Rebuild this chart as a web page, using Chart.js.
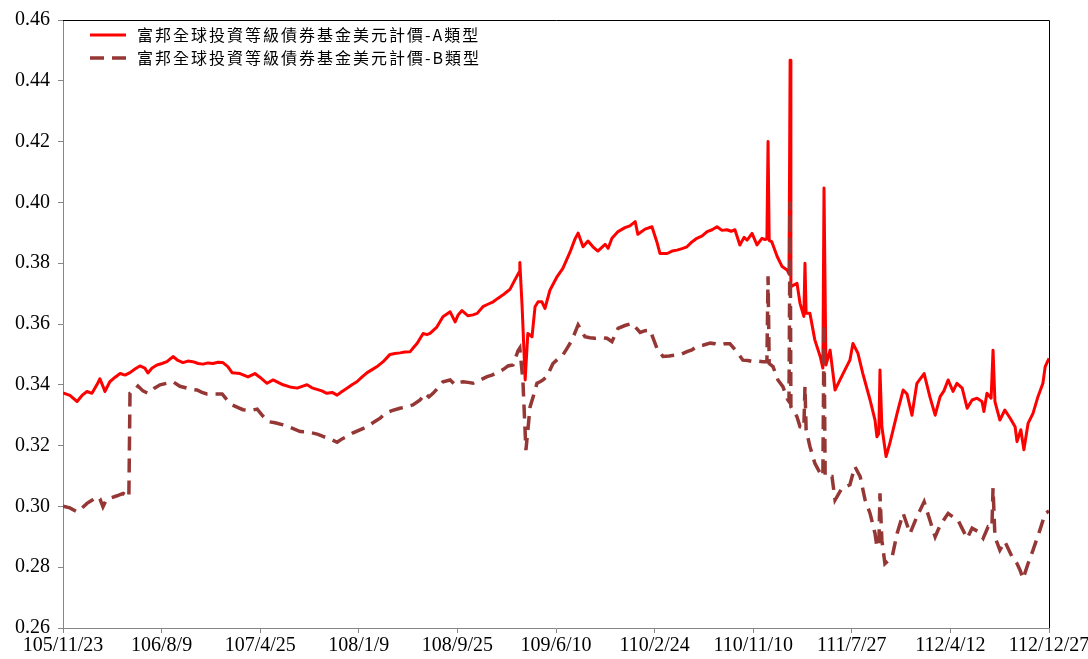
<!DOCTYPE html>
<html>
<head>
<meta charset="utf-8">
<script src="https://cdn.jsdelivr.net/npm/chart.js@4"></script>
<style>
  html, body { margin: 0; padding: 0; background: #fff; }
  #chart { display: block; }
</style>
</head>
<body>
<canvas id="chart" width="1088" height="659"></canvas>
<script>
// x ticks: every 259 days from 105/11/23 (ROC calendar)
const xTickLabels = ['105/11/23', '106/8/9', '107/4/25', '108/1/9', '108/9/25', '109/6/10',
    '110/2/24', '110/11/10', '111/7/27', '112/4/12', '112/12/27'];
const tickStepDays = 259;
const totalDays = 2590;

const seriesNames = ['富邦全球投資等級債券基金美元計價-A類型', '富邦全球投資等級債券基金美元計價-B類型'];

// A type: days since 105/11/23, value
const aDays = [0, 18, 37, 50, 63, 76, 89, 97, 105, 110, 123, 137, 150, 163, 176, 189, 202, 215, 223, 234,
    247, 260, 273, 289, 302, 315, 328, 341, 355, 368, 381, 394, 407, 420, 433, 444, 465, 486, 504, 517,
    536, 552, 578, 596, 615, 628, 641, 654, 667, 680, 693, 707, 720, 733, 746, 759, 772, 785, 799, 812,
    825, 841, 859, 872, 885, 898, 912, 919, 930, 946, 956, 964, 982, 998, 1017, 1030, 1038, 1048, 1064, 1077,
    1088, 1103, 1116, 1130, 1143, 1156, 1166, 1174, 1187, 1198, 1200, 1206, 1214, 1221, 1232, 1240, 1248, 1258, 1266, 1279,
    1298, 1313, 1332, 1345, 1353, 1366, 1379, 1392, 1405, 1424, 1432, 1442, 1458, 1476, 1489, 1503, 1510, 1529, 1547, 1560,
    1568, 1587, 1600, 1613, 1626, 1639, 1652, 1665, 1679, 1692, 1705, 1718, 1731, 1744, 1755, 1765, 1778, 1789, 1797, 1810,
    1823, 1836, 1844, 1849, 1852, 1855, 1862, 1876, 1889, 1902, 1907, 1910, 1912, 1928, 1936, 1946, 1949, 1952, 1962, 1975,
    1989, 1996, 1999, 2004, 2015, 2028, 2041, 2054, 2067, 2075, 2088, 2101, 2120, 2133, 2138, 2143, 2146, 2151, 2162, 2172,
    2191, 2207, 2217, 2230, 2243, 2262, 2277, 2291, 2304, 2314, 2325, 2338, 2348, 2362, 2375, 2388, 2401, 2414, 2419, 2427,
    2438, 2443, 2448, 2461, 2474, 2488, 2501, 2506, 2516, 2524, 2535, 2548, 2561, 2574, 2580, 2590];
const aValues = [0.3373, 0.3365, 0.3345, 0.3365, 0.3378, 0.3372, 0.3400, 0.3420, 0.3395, 0.3378, 0.3410, 0.3425, 0.3437, 0.3432, 0.3440, 0.3452, 0.3462, 0.3455, 0.3439, 0.3455,
    0.3465, 0.3470, 0.3476, 0.3493, 0.3480, 0.3473, 0.3478, 0.3476, 0.3470, 0.3468, 0.3472, 0.3470, 0.3474, 0.3473, 0.3460, 0.3440, 0.3437, 0.3426, 0.3437, 0.3425,
    0.3405, 0.3416, 0.3400, 0.3393, 0.3389, 0.3395, 0.3400, 0.3390, 0.3385, 0.3380, 0.3372, 0.3375, 0.3366, 0.3378, 0.3389, 0.3400, 0.3410, 0.3425, 0.3440, 0.3450,
    0.3460, 0.3476, 0.3500, 0.3503, 0.3505, 0.3508, 0.3509, 0.3520, 0.3536, 0.3569, 0.3565, 0.3569, 0.3590, 0.3624, 0.3640, 0.3607, 0.3630, 0.3644, 0.3627, 0.3630,
    0.3635, 0.3657, 0.3665, 0.3673, 0.3685, 0.3696, 0.3706, 0.3714, 0.3745, 0.3770, 0.3802, 0.3657, 0.3416, 0.3569, 0.3558, 0.3657, 0.3673, 0.3673, 0.3651, 0.3711,
    0.3756, 0.3783, 0.3837, 0.3880, 0.3899, 0.3854, 0.3873, 0.3854, 0.3840, 0.3862, 0.3849, 0.3882, 0.3904, 0.3917, 0.3923, 0.3937, 0.3895, 0.3912, 0.3920, 0.3870,
    0.3832, 0.3832, 0.3840, 0.3843, 0.3848, 0.3854, 0.3870, 0.3882, 0.3890, 0.3904, 0.3910, 0.3920, 0.3908, 0.3910, 0.3905, 0.3910, 0.3860, 0.3885, 0.3876, 0.3898,
    0.3860, 0.3882, 0.3878, 0.3880, 0.4200, 0.3875, 0.3870, 0.3822, 0.3789, 0.3778, 0.3765, 0.4468, 0.3723, 0.3734, 0.3668, 0.3625, 0.3800, 0.3635, 0.3635, 0.3547,
    0.3493, 0.3455, 0.4047, 0.3465, 0.3514, 0.3383, 0.3416, 0.3449, 0.3481, 0.3536, 0.3504, 0.3437, 0.3350, 0.3284, 0.3229, 0.3240, 0.3449, 0.3262, 0.3164, 0.3208,
    0.3306, 0.3383, 0.3370, 0.3300, 0.3405, 0.3437, 0.3361, 0.3300, 0.3361, 0.3380, 0.3416, 0.3378, 0.3405, 0.3389, 0.3323, 0.3350, 0.3356, 0.3345, 0.3312, 0.3372,
    0.3356, 0.3514, 0.3345, 0.3284, 0.3317, 0.3290, 0.3262, 0.3213, 0.3252, 0.3186, 0.3273, 0.3306, 0.3361, 0.3405, 0.3460, 0.3487];

// B type
const bDays = [0, 18, 37, 50, 63, 76, 89, 97, 105, 113, 123, 142, 158, 171, 173, 176, 187, 197, 210, 223,
    239, 255, 273, 289, 307, 326, 339, 352, 365, 378, 397, 418, 431, 444, 460, 473, 491, 510, 523, 538,
    557, 578, 596, 623, 641, 657, 670, 683, 701, 720, 733, 746, 762, 780, 799, 814, 833, 846, 864, 885,
    904, 919, 938, 951, 961, 972, 985, 998, 1017, 1030, 1040, 1051, 1064, 1077, 1095, 1114, 1127, 1140, 1156, 1169,
    1182, 1195, 1200, 1203, 1208, 1216, 1227, 1235, 1245, 1253, 1261, 1271, 1287, 1300, 1313, 1324, 1337, 1353, 1371, 1384,
    1397, 1413, 1429, 1442, 1458, 1476, 1495, 1516, 1529, 1542, 1560, 1576, 1592, 1608, 1623, 1639, 1652, 1665, 1681, 1700,
    1713, 1726, 1739, 1752, 1770, 1786, 1799, 1813, 1826, 1839, 1849, 1852, 1855, 1865, 1878, 1891, 1904, 1907, 1910, 1912,
    1928, 1936, 1946, 1949, 1952, 1962, 1975, 1989, 1996, 1999, 2002, 2020, 2028, 2046, 2067, 2080, 2094, 2107, 2120, 2133,
    2138, 2143, 2146, 2151, 2159, 2178, 2191, 2207, 2225, 2243, 2262, 2277, 2291, 2304, 2325, 2338, 2351, 2364, 2375, 2388,
    2404, 2417, 2430, 2440, 2443, 2448, 2461, 2474, 2493, 2506, 2514, 2522, 2535, 2548, 2566, 2580, 2590];
const bValues = [0.3001, 0.2995, 0.2982, 0.2995, 0.3010, 0.3020, 0.3032, 0.3025, 0.2999, 0.3020, 0.3027, 0.3035, 0.3043, 0.3034, 0.3030, 0.3372, 0.3380, 0.3396, 0.3380, 0.3372,
    0.3388, 0.3400, 0.3405, 0.3410, 0.3395, 0.3389, 0.3385, 0.3383, 0.3375, 0.3370, 0.3370, 0.3370, 0.3350, 0.3334, 0.3325, 0.3318, 0.3315, 0.3320, 0.3300, 0.3279,
    0.3275, 0.3268, 0.3260, 0.3246, 0.3245, 0.3241, 0.3237, 0.3230, 0.3222, 0.3211, 0.3222, 0.3230, 0.3242, 0.3252, 0.3262, 0.3275, 0.3290, 0.3306, 0.3315, 0.3323,
    0.3328, 0.3334, 0.3350, 0.3372, 0.3360, 0.3372, 0.3390, 0.3410, 0.3416, 0.3400, 0.3408, 0.3410, 0.3408, 0.3405, 0.3415, 0.3427, 0.3432, 0.3440, 0.3450, 0.3462,
    0.3465, 0.3511, 0.3521, 0.3480, 0.3416, 0.3185, 0.3328, 0.3361, 0.3405, 0.3410, 0.3416, 0.3427, 0.3470, 0.3485, 0.3498, 0.3520, 0.3547, 0.3597, 0.3558, 0.3555,
    0.3553, 0.3555, 0.3553, 0.3542, 0.3586, 0.3595, 0.3602, 0.3572, 0.3578, 0.3580, 0.3521, 0.3493, 0.3495, 0.3498, 0.3500, 0.3509, 0.3515, 0.3526, 0.3530, 0.3537,
    0.3535, 0.3531, 0.3535, 0.3535, 0.3509, 0.3481, 0.3480, 0.3476, 0.3478, 0.3476, 0.3476, 0.3757, 0.3470, 0.3460, 0.3416, 0.3394, 0.3350, 0.3345, 0.4002, 0.3328,
    0.3295, 0.3262, 0.3258, 0.3394, 0.3252, 0.3197, 0.3142, 0.3109, 0.3100, 0.3600, 0.3098, 0.3098, 0.3021, 0.3060, 0.3071, 0.3131, 0.3098, 0.3021, 0.2977, 0.2911,
    0.2867, 0.2870, 0.3043, 0.2889, 0.2812, 0.2834, 0.2911, 0.2977, 0.2911, 0.2966, 0.3015, 0.2955, 0.2900, 0.2938, 0.2977, 0.2965, 0.2955, 0.2922, 0.2895, 0.2928,
    0.2917, 0.2895, 0.2933, 0.2930, 0.3060, 0.2900, 0.2856, 0.2884, 0.2834, 0.2812, 0.2790, 0.2762, 0.2812, 0.2856, 0.2922, 0.2977, 0.2985];

const axisGray = '#868686';
const tickFont = { family: '"Liberation Serif", "Times New Roman", serif', size: 20 };

// legend drawn inside the plot area, top-left
const innerLegend = {
    id: 'innerLegend',
    afterDraw(chart) {
        const ctx = chart.ctx;
        const area = chart.chartArea;
        ctx.save();
        chart.data.datasets.forEach((ds, i) => {
            const y = area.top + 15 + i * 23;
            const x = area.left + 27;
            ctx.beginPath();
            ctx.strokeStyle = ds.borderColor;
            ctx.lineWidth = ds.borderWidth;
            ctx.setLineDash(ds.borderDash || []);
            ctx.moveTo(x, y);
            ctx.lineTo(x + 36, y);
            ctx.stroke();
            ctx.setLineDash([]);
            ctx.fillStyle = '#000';
            ctx.font = '16px "Noto Sans CJK TC", "Liberation Serif", sans-serif';
            ctx.letterSpacing = '2px';
            ctx.textBaseline = 'middle';
            ctx.fillText(ds.label, x + 47, y);
        });
        ctx.restore();
    }
};

// black frame on top and right
const frame = {
    id: 'frame',
    afterDatasetsDraw(chart) {
        const ctx = chart.ctx;
        const a = chart.chartArea;
        ctx.save();
        ctx.strokeStyle = '#000';
        ctx.lineWidth = 1;
        ctx.beginPath();
        ctx.moveTo(a.left, a.top + 0.5);
        ctx.lineTo(a.right + 0.5, a.top + 0.5);
        ctx.lineTo(a.right + 0.5, a.bottom);
        ctx.stroke();
        ctx.restore();
    }
};

new Chart(document.getElementById('chart'), {
    type: 'line',
    data: {
        datasets: [
            {
                label: seriesNames[0],
                data: aDays.map((d, i) => ({ x: d, y: aValues[i] })),
                borderColor: '#ff0000',
                borderWidth: 3,
                pointRadius: 0,
                tension: 0,
                borderJoinStyle: 'round',
                order: 1
            },
            {
                label: seriesNames[1],
                data: bDays.map((d, i) => ({ x: d, y: bValues[i] })),
                borderColor: '#953735',
                borderWidth: 3.5,
                borderDash: [14, 8],
                pointRadius: 0,
                tension: 0,
                order: 0
            }
        ]
    },
    options: {
        responsive: false,
        animation: false,
        devicePixelRatio: 1,
        layout: { padding: { top: 20, right: 39, left: 0, bottom: 0 } },
        plugins: {
            legend: { display: false },
            tooltip: { enabled: false }
        },
        scales: {
            x: {
                type: 'linear',
                min: 0,
                max: totalDays,
                afterBuildTicks: scale => {
                    scale.ticks = xTickLabels.map((_, i) => ({ value: i * tickStepDays }));
                },
                afterFit: scale => {
                    scale.height = 31;
                    // let the end labels run past the plot edges
                    scale.paddingLeft = 0;
                    scale.paddingRight = 0;
                },
                grid: { drawOnChartArea: false, drawTicks: true, tickLength: 5, color: axisGray },
                border: { color: axisGray, width: 1 },
                ticks: {
                    autoSkip: false,
                    maxRotation: 0,
                    color: '#000',
                    font: tickFont,
                    padding: 1,
                    callback: (v, i) => xTickLabels[i]
                }
            },
            y: {
                min: 0.26,
                max: 0.46,
                afterFit: scale => { scale.width = 63; },
                grid: { drawOnChartArea: false, drawTicks: true, tickLength: 5, color: axisGray },
                border: { color: axisGray, width: 1 },
                ticks: {
                    stepSize: 0.02,
                    color: '#000',
                    font: tickFont,
                    padding: 8,
                    callback: v => v.toFixed(2)
                }
            }
        }
    },
    plugins: [innerLegend, frame]
});
</script>
</body>
</html>
